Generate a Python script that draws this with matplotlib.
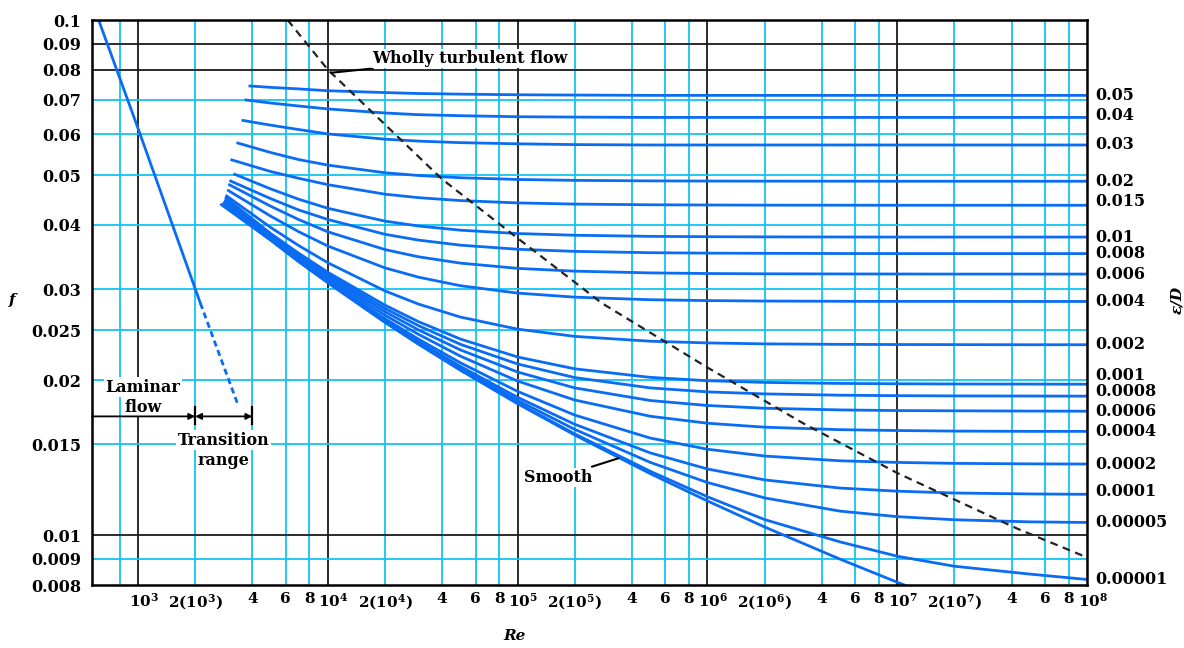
import matplotlib
matplotlib.use('Agg')
import matplotlib.pyplot as plt
from matplotlib.ticker import NullLocator, NullFormatter
from matplotlib.transforms import ScaledTranslation

plt.rcParams['font.family'] = ['DejaVu Serif']
plt.rcParams['font.weight'] = 'bold'
plt.rcParams['mathtext.fontset'] = 'dejavuserif'

# Reynolds numbers at which the rough-pipe curves were read
re_grid = [5e3, 7e3, 1e4, 2e4, 3e4, 5e4, 1e5, 2e5, 5e5, 1e6, 2e6, 5e6, 1e7, 2e7, 5e7, 1e8]

rel_rough = ['0.05', '0.04', '0.03', '0.02', '0.015', '0.01', '0.008', '0.006', '0.004',
             '0.002', '0.001', '0.0008', '0.0006', '0.0004', '0.0002', '0.0001',
             '0.00005', '0.00001']
# where each curve begins on the left
start_re = [3820, 3640, 3510, 3300, 3070, 3180, 3030, 2990, 2950,
            2890, 2870, 2870, 2850, 2850, 2800, 2800, 2780, 2780]
start_f = [0.0745, 0.0700, 0.0639, 0.0578, 0.0536, 0.0503, 0.0488, 0.0480, 0.0468,
           0.0457, 0.0453, 0.0449, 0.0447, 0.0445, 0.0443, 0.0441, 0.0439, 0.0439]

f_0p05 = [0.0740, 0.0735, 0.0729, 0.0723, 0.0720, 0.0718, 0.0716, 0.0715, 0.0714, 0.0714, 0.0714, 0.0714, 0.0714, 0.0714, 0.0714, 0.0714]
f_0p04 = [0.0690, 0.0681, 0.0672, 0.0660, 0.0655, 0.0652, 0.0649, 0.0648, 0.0647, 0.0647, 0.0647, 0.0647, 0.0647, 0.0647, 0.0647, 0.0647]
f_0p03 = [0.0625, 0.0613, 0.0601, 0.0587, 0.0582, 0.0578, 0.0575, 0.0573, 0.0572, 0.0572, 0.0572, 0.0572, 0.0572, 0.0572, 0.0572, 0.0572]
f_0p02 = [0.0553, 0.0536, 0.05228, 0.05052, 0.04991, 0.04941, 0.04903, 0.04883, 0.04872, 0.04868, 0.04866, 0.04865, 0.04864, 0.04864, 0.04864, 0.04864]
f_0p015 = [0.0508, 0.0493, 0.0479, 0.04591, 0.0452, 0.04461, 0.04415, 0.04392, 0.04378, 0.04374, 0.04371, 0.0437, 0.04369, 0.04369, 0.04369, 0.04369]
f_0p01 = [0.0470, 0.0449, 0.0431, 0.0407, 0.03982, 0.03908, 0.0385, 0.03821, 0.03802, 0.03796, 0.03793, 0.03791, 0.0379, 0.0379, 0.0379, 0.0379]
f_0p008 = [0.0450, 0.0428, 0.0410, 0.03837, 0.03739, 0.03655, 0.03589, 0.03555, 0.03534, 0.03527, 0.03524, 0.03521, 0.0352, 0.0352, 0.0352, 0.0352]
f_0p006 = [0.0435, 0.0410, 0.0388, 0.03584, 0.0347, 0.03373, 0.03295, 0.03254, 0.03229, 0.0322, 0.03216, 0.03214, 0.03213, 0.03212, 0.03212, 0.03212]
f_0p004 = [0.04161, 0.03884, 0.03641, 0.03302, 0.03168, 0.03049, 0.0295, 0.02897, 0.02864, 0.02853, 0.02847, 0.02844, 0.02843, 0.02843, 0.02842, 0.02842]
f_0p002 = [0.03956, 0.03651, 0.03379, 0.02979, 0.02809, 0.0265, 0.02511, 0.02431, 0.02379, 0.02361, 0.02351, 0.02346, 0.02344, 0.02343, 0.02342, 0.02342]
f_0p001 = [0.0385, 0.03528, 0.03238, 0.02795, 0.02597, 0.02402, 0.02217, 0.02103, 0.02024, 0.01994, 0.01979, 0.0197, 0.01967, 0.01965, 0.01964, 0.01963]
f_0p0008 = [0.03827, 0.03503, 0.03209, 0.02755, 0.02551, 0.02346, 0.02149, 0.02022, 0.01931, 0.01897, 0.0188, 0.01869, 0.01865, 0.01863, 0.01862, 0.01861]
f_0p0006 = [0.03807, 0.03478, 0.0318, 0.02715, 0.02503, 0.02288, 0.02073, 0.01931, 0.01825, 0.01785, 0.01763, 0.0175, 0.01745, 0.01743, 0.01741, 0.0174]
f_0p0004 = [0.03784, 0.03453, 0.03149, 0.02673, 0.02454, 0.02225, 0.01991, 0.01829, 0.01701, 0.01649, 0.0162, 0.01602, 0.01596, 0.01592, 0.0159, 0.0159]
f_0p0002 = [0.03763, 0.03427, 0.03119, 0.02631, 0.02402, 0.0216, 0.01901, 0.0171, 0.01543, 0.01468, 0.01424, 0.01394, 0.01384, 0.01378, 0.01375, 0.01374]
f_0p0001 = [0.03751, 0.03414, 0.03104, 0.0261, 0.02375, 0.02125, 0.01851, 0.01641, 0.01444, 0.01344, 0.0128, 0.01234, 0.01217, 0.01207, 0.01202, 0.0120]
f_0p00005 = [0.03745, 0.03408, 0.03096, 0.02599, 0.02362, 0.02107, 0.01826, 0.01604, 0.01384, 0.01265, 0.01181, 0.01113, 0.01086, 0.01071, 0.01061, 0.01058]
f_0p00001 = [0.03741, 0.03401, 0.03092, 0.02591, 0.02351, 0.02093, 0.01805, 0.01572, 0.0133, 0.01187, 0.01072, 0.0097, 0.0091, 0.0087, 0.0084, 0.0082]

rough_f = [f_0p05, f_0p04, f_0p03, f_0p02, f_0p015, f_0p01, f_0p008, f_0p006, f_0p004,
           f_0p002, f_0p001, f_0p0008, f_0p0006, f_0p0004, f_0p0002, f_0p0001,
           f_0p00005, f_0p00001]

smooth_re = [2750, 5e3, 7e3, 1e4, 2e4, 3e4, 5e4, 1e5, 2e5, 5e5, 1e6, 2e6, 5e6, 1e7, 1.2e7]
smooth_f = [0.0438, 0.03738, 0.0340, 0.03091, 0.02589, 0.02349, 0.02089, 0.01799, 0.01564, 0.01316, 0.01165, 0.01037, 0.00898, 0.0081, 0.00789]

laminar_re = [620, 1000, 2130]
laminar_f = [0.1, 0.0616, 0.0282]
trans_re = [2130, 3380]
trans_f = [0.0282, 0.0178]

turb_re = [6140, 1e4, 3.97e4, 9.64e4, 2.78e5, 9.9e5, 3.18e6, 1e7, 4.27e7, 1e8]
turb_f = [0.1, 0.0801, 0.0492, 0.0381, 0.0282, 0.0212, 0.0165, 0.0132, 0.0103, 0.00905]

x_ticks = [1e3, 2e3, 4e3, 6e3, 8e3, 1e4, 2e4, 4e4, 6e4, 8e4, 1e5, 2e5, 4e5, 6e5, 8e5,
           1e6, 2e6, 4e6, 6e6, 8e6, 1e7, 2e7, 4e7, 6e7, 8e7, 1e8]
x_labels = []
for v in x_ticks:
    e = len(str(int(v))) - 1
    m = int(round(v / 10 ** e))
    if m == 1:
        x_labels.append(r'$\mathbf{10^{%d}}$' % e)
    elif m == 2:
        x_labels.append(r'$\mathbf{2(10^{%d})}$' % e)
    else:
        x_labels.append(str(m))
y_ticks = [0.1, 0.09, 0.08, 0.07, 0.06, 0.05, 0.04, 0.03, 0.025, 0.02, 0.015, 0.01, 0.009, 0.008]
y_labels = ['0.1', '0.09', '0.08', '0.07', '0.06', '0.05', '0.04', '0.03', '0.025', '0.02',
            '0.015', '0.01', '0.009', '0.008']

BLUE = '#0a6cf2'
CYAN = '#12c4f4'

fig = plt.figure(figsize=(11.84, 6.48), dpi=100)
ax = fig.add_axes([0.0777, 0.0972, 0.8404, 0.8719])
ax.set_xscale('log')
ax.set_yscale('log')
ax.set_xlim(572, 1e8)
ax.set_ylim(0.008, 0.1)

# grid: decades in black, the rest in cyan
for v in [800] + x_ticks[:-1]:
    is_decade = abs(v / 10 ** (len(str(int(v))) - 1) - 1) < 1e-9
    ax.axvline(v, color='#1a1a1a' if is_decade else CYAN, lw=1.3, zorder=1)
for v in y_ticks[1:-1]:
    ax.axhline(v, color='#1a1a1a' if v in (0.09, 0.08, 0.01) else CYAN, lw=1.3, zorder=1)

for r0, f0, fs in zip(start_re, start_f, rough_f):
    ax.plot([r0] + re_grid, [f0] + fs, color=BLUE, lw=2.0, zorder=3, solid_capstyle='butt')
ax.plot(smooth_re, smooth_f, color=BLUE, lw=2.0, zorder=3)
ax.plot(laminar_re, laminar_f, color=BLUE, lw=2.0, zorder=3)
ax.plot(trans_re, trans_f, color=BLUE, lw=2.0, ls=(0, (2.2, 1.4)), zorder=3)
ax.plot(turb_re, turb_f, color='#222222', lw=1.6, ls=(0, (3.5, 2.5)), zorder=4)

for s in ax.spines.values():
    s.set_color('black')
    s.set_linewidth(1.8)
    s.set_zorder(5)

ax.xaxis.set_minor_locator(NullLocator())
ax.yaxis.set_minor_locator(NullLocator())
ax.xaxis.set_minor_formatter(NullFormatter())
ax.yaxis.set_minor_formatter(NullFormatter())
ax.set_xticks(x_ticks, x_labels)
ax.set_yticks(y_ticks, y_labels)
ax.tick_params(axis='both', length=0)
ax.tick_params(axis='y', pad=8, labelsize=11.5)
ax.tick_params(axis='x', pad=5, labelsize=11)

# decade labels sit a little right of their gridline, as in the reference
shift = ScaledTranslation(4 / 72, 0, fig.dpi_scale_trans)
for lbl in ax.get_xticklabels():
    if lbl.get_text().startswith(r'$\mathbf{10'):
        lbl.set_transform(lbl.get_transform() + shift)

# relative roughness labels at the right end of each curve
nudge = {'0.001': 6, '0.0008': 3, '0.015': 3, '0.04': 1.5, '0.0001': 2}
for lab, fs in zip(rel_rough, rough_f):
    ax.annotate(lab, xy=(1.0, fs[-1]), xycoords=('axes fraction', 'data'),
                xytext=(6, nudge.get(lab, 0)), textcoords='offset points',
                va='center', ha='left', fontsize=11.5, annotation_clip=False)

box = dict(facecolor='white', edgecolor='none', pad=1.0)
txt = dict(fontsize=11.5, fontweight='bold', zorder=6)

ax.annotate('Wholly turbulent flow', xy=(1.04e4, 0.0790), xytext=(5.6e4, 0.0825),
            ha='center', va='baseline', bbox=box,
            arrowprops=dict(arrowstyle='-', color='black', lw=1.5, shrinkA=0, shrinkB=0),
            **txt)
ax.annotate('Smooth', xy=(3.4e5, 0.0141), xytext=(1.63e5, 0.01268),
            ha='center', va='baseline', bbox=box,
            arrowprops=dict(arrowstyle='-', color='black', lw=1.5, shrinkA=2, shrinkB=0),
            **txt)
ax.text(1060, 0.0190, 'Laminar', ha='center', va='baseline', bbox=box, **txt)
ax.text(1060, 0.01737, 'flow', ha='center', va='baseline', bbox=box, **txt)
ax.text(2820, 0.01497, 'Transition', ha='center', va='baseline', bbox=box, **txt)
ax.text(2820, 0.01368, 'range', ha='center', va='baseline', bbox=box, **txt)

# laminar / transition range markers
lam_end, trans_end, y_arrow = 2000, 4000, 0.0170
ax.annotate('', xy=(lam_end, y_arrow), xytext=(572, y_arrow),
            arrowprops=dict(arrowstyle='-|>', color='black', lw=1.3, shrinkA=0, shrinkB=0,
                            mutation_scale=9), zorder=6)
ax.annotate('', xy=(trans_end, y_arrow), xytext=(lam_end, y_arrow),
            arrowprops=dict(arrowstyle='<|-|>', color='black', lw=1.3, shrinkA=0, shrinkB=0,
                            mutation_scale=9), zorder=6)
for v in (lam_end, trans_end):
    ax.plot([v, v], [0.0164, 0.0177], color='black', lw=1.6, zorder=6)

fig.text(0.0101, 0.537, 'f', fontsize=11, fontstyle='italic', fontweight='bold',
         ha='center', va='center')
fig.text(0.435, 0.0185, 'Re', fontsize=11, fontstyle='italic', fontweight='bold',
         ha='center', va='center')
fig.text(0.994, 0.537, 'ε/D', fontsize=11, fontstyle='italic', fontweight='bold',
         ha='center', va='center', rotation=90)

fig.savefig('out.png', dpi=100)
